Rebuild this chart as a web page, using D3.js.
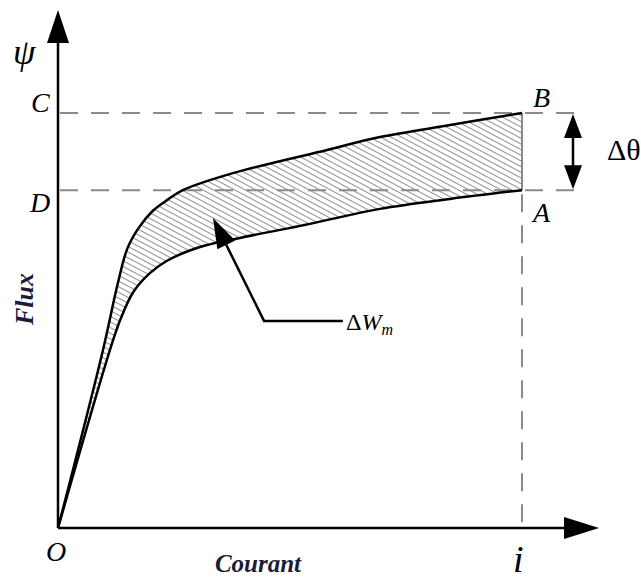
<!DOCTYPE html>
<html>
<head>
<meta charset="utf-8">
<script src="https://cdn.jsdelivr.net/npm/d3@7"></script>
<style>
  body { margin: 0; background: #fff; }
  svg { display: block; }
</style>
</head>
<body>
<svg id="chart"></svg>
<script>
// magnetisation curves (current, flux)
var upperI   = [0, 0.97, 1.29, 1.50, 1.75, 2.05, 2.35, 2.69, 3.77, 5.80, 6.94, 8.45, 10]
var upperPsi = [0, 4.29, 5.90, 6.75, 7.25, 7.65, 7.90, 8.14, 8.55, 9.11, 9.42, 9.71, 10]
var lowerI   = [0, 1.12, 1.34, 1.62, 1.98, 2.35, 3.06, 3.92, 5.22, 6.94, 8.45, 10]
var lowerPsi = [0, 4.29, 5.01, 5.68, 6.14, 6.44, 6.77, 6.99, 7.28, 7.69, 7.93, 8.14]

// levels of the dashed guides
var levelC = 10
var levelD = 8.14
var levelI = 10

var width = 641
var height = 579
var svg = d3.select("#chart").attr("width", width).attr("height", height)

var x = d3.scaleLinear().domain([0, 10]).range([58, 522])
var y = d3.scaleLinear().domain([0, 10]).range([528, 113])

var upper = upperI.map((d, k) => [d, upperPsi[k]])
var lower = lowerI.map((d, k) => [d, lowerPsi[k]])

var line = d3.line().x(d => x(d[0])).y(d => y(d[1])).curve(d3.curveCatmullRom.alpha(0.5))

// hatch pattern
var defs = svg.append("defs")
defs.append("pattern")
    .attr("id", "hatch")
    .attr("patternUnits", "userSpaceOnUse")
    .attr("width", 10).attr("height", 5)
    .attr("patternTransform", "rotate(28)")
  .append("path")
    .attr("d", "M0,2.5H10")
    .attr("stroke", "#8f8f8f")
    .attr("stroke-width", 1)

// area between the two curves
var areaPath = line(upper) + "L" + line(lower.slice().reverse()).slice(1) + "Z"
svg.append("path")
    .attr("d", areaPath)
    .attr("fill", "url(#hatch)")

// dashed guides
var dash = "18,13"
var guides = svg.append("g").attr("stroke", "#8a8a8a").attr("stroke-width", 2).attr("fill", "none")
guides.append("line").attr("x1", x(0) + 2).attr("x2", 585).attr("y1", y(levelC)).attr("y2", y(levelC))
    .attr("stroke-dasharray", dash)
guides.append("line").attr("x1", x(0) + 2).attr("x2", 585).attr("y1", y(levelD)).attr("y2", y(levelD))
    .attr("stroke-dasharray", dash)
guides.append("line").attr("x1", x(levelI)).attr("x2", x(levelI)).attr("y1", y(levelC)).attr("y2", y(levelD))
guides.append("line").attr("x1", x(levelI)).attr("x2", x(levelI)).attr("y1", y(levelD) + 4).attr("y2", y(0))
    .attr("stroke-dasharray", dash)

// curves
svg.append("path").attr("d", line(upper)).attr("fill", "none").attr("stroke", "#000").attr("stroke-width", 2.5)
svg.append("path").attr("d", line(lower)).attr("fill", "none").attr("stroke", "#000").attr("stroke-width", 2.5)

// axes with arrowheads
svg.append("line").attr("x1", x(0)).attr("y1", y(0)).attr("x2", x(0)).attr("y2", 40)
    .attr("stroke", "#000").attr("stroke-width", 2.5)
svg.append("path").attr("d", "M" + x(0) + ",10L" + (x(0) - 11) + ",43L" + (x(0) + 11) + ",43Z")
svg.append("line").attr("x1", x(0)).attr("y1", y(0)).attr("x2", 566).attr("y2", y(0))
    .attr("stroke", "#000").attr("stroke-width", 2.5)
svg.append("path").attr("d", "M599," + y(0) + "L564," + (y(0) - 11) + "L564," + (y(0) + 11) + "Z")

// double arrow for delta theta
var ax = 573
svg.append("line").attr("x1", ax).attr("x2", ax).attr("y1", y(levelC) + 10).attr("y2", y(levelD) - 10)
    .attr("stroke", "#000").attr("stroke-width", 2.5)
svg.append("path").attr("d", "M" + ax + "," + (y(levelC) + 1) + "L" + (ax - 9) + "," + (y(levelC) + 25) + "L" + (ax + 9) + "," + (y(levelC) + 25) + "Z")
svg.append("path").attr("d", "M" + ax + "," + (y(levelD) - 1) + "L" + (ax - 9) + "," + (y(levelD) - 25) + "L" + (ax + 9) + "," + (y(levelD) - 25) + "Z")

// annotation arrow for delta W_m
var tip = [3.34, 7.47], corner = [4.44, 4.99], end = [6.14, 4.99]
var tx = x(tip[0]), ty = y(tip[1]), cx = x(corner[0]), cy = y(corner[1])
var ang = Math.atan2(ty - cy, tx - cx)
var hl = 30, hw = 10
var bx = tx - hl * Math.cos(ang), by = ty - hl * Math.sin(ang)
svg.append("path")
    .attr("d", "M" + x(end[0]) + "," + cy + "L" + cx + "," + cy + "L" + bx + "," + by)
    .attr("fill", "none").attr("stroke", "#000").attr("stroke-width", 2.5)
svg.append("path")
    .attr("d", "M" + tx + "," + ty +
               "L" + (bx + hw * Math.sin(ang)) + "," + (by - hw * Math.cos(ang)) +
               "L" + (bx - hw * Math.sin(ang)) + "," + (by + hw * Math.cos(ang)) + "Z")

// labels
var serif = "'Liberation Serif', 'DejaVu Serif', serif"
function label(t, px, py, size, italic) {
  return svg.append("text").attr("x", px).attr("y", py)
    .attr("font-family", serif).attr("font-size", size)
    .attr("font-style", italic ? "italic" : "normal")
    .text(t)
}
label("\u03C8", 13, 64, 36, true)
label("C", 31, 112, 28, true)
label("D", 30, 212, 28, true)
label("B", 533, 107, 28, true)
label("A", 533, 222, 28, true)
label("O", 46, 561, 28, true)
label("i", 513, 572, 38, true)
label("\u0394\u03B8", 607, 160, 30, false)

var dw = svg.append("text").attr("x", 346).attr("y", 330)
    .attr("font-family", serif).attr("font-size", 24)
dw.append("tspan").text("\u0394")
dw.append("tspan").attr("font-style", "italic").text("W")
dw.append("tspan").attr("font-style", "italic").attr("font-size", 16).attr("dy", 5).text("m")

svg.append("text").attr("x", 258).attr("y", 572).attr("text-anchor", "middle")
    .attr("font-family", serif).attr("font-size", 25).attr("font-weight", "bold").attr("font-style", "italic")
    .attr("fill", "#1b1b3a").text("Courant")
svg.append("text").attr("transform", "translate(33,299) rotate(-90)").attr("text-anchor", "middle")
    .attr("font-family", serif).attr("font-size", 26).attr("font-weight", "bold").attr("font-style", "italic")
    .attr("fill", "#1b1b3a").text("Flux")
</script>
</body>
</html>
